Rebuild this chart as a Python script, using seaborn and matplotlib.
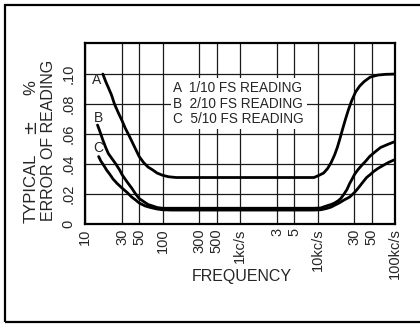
import matplotlib
matplotlib.use("Agg")
import matplotlib.pyplot as plt
from matplotlib.patches import Rectangle
import seaborn as sns
import pandas as pd

# Curve A: 1/10 full-scale reading
freq_a = [17, 18.5, 20, 22, 24, 27, 30, 33, 37, 43, 50, 57, 65, 75, 85, 100,
          120, 150, 200, 1000, 5000, 9000, 10500, 12000, 13500, 15000, 16600,
          18000, 19500, 21000, 23000, 25000, 27500, 31000, 35000, 40000, 48000,
          60000, 75000, 100000]
err_a = [0.100, 0.095, 0.091, 0.086, 0.080, 0.074, 0.069, 0.064, 0.059, 0.052,
         0.045, 0.041, 0.038, 0.036, 0.034, 0.0325, 0.0315, 0.031, 0.031,
         0.031, 0.031, 0.031, 0.0325, 0.034, 0.037, 0.041, 0.046, 0.051,
         0.057, 0.063, 0.070, 0.076, 0.082, 0.088, 0.092, 0.095, 0.098,
         0.0993, 0.0998, 0.100]

# Curve B: 2/10 full-scale reading
freq_b = [14.5, 15.5, 17, 18.5, 20, 22, 25, 28, 30, 35, 40, 45, 50, 57, 65,
          75, 85, 100, 120, 1000, 9000, 11000, 13000, 15000, 16600, 18500,
          20000, 22000, 24000, 26000, 28000, 30000, 33000, 37000, 42000, 47000,
          55000, 65000, 80000, 100000]
err_b = [0.066, 0.062, 0.056, 0.051, 0.047, 0.044, 0.040, 0.036, 0.033, 0.028,
         0.024, 0.020, 0.017, 0.015, 0.013, 0.012, 0.011, 0.0105, 0.0105,
         0.0105, 0.0105, 0.0107, 0.012, 0.013, 0.014, 0.0155, 0.017, 0.020,
         0.023, 0.027, 0.030, 0.033, 0.036, 0.039, 0.042, 0.045, 0.048, 0.051,
         0.053, 0.055]

# Curve C: 5/10 full-scale reading
freq_c = [15, 16, 17.5, 19, 21, 23, 26, 30, 35, 40, 45, 50, 60, 70, 85, 100,
          130, 1000, 9000, 11000, 13000, 15000, 16600, 19000, 22000, 26000,
          30000, 33000, 36000, 40000, 43000, 48000, 53000, 60000, 70000, 82000,
          100000]
err_c = [0.045, 0.042, 0.039, 0.036, 0.033, 0.030, 0.027, 0.024, 0.021, 0.018,
         0.016, 0.014, 0.012, 0.011, 0.010, 0.0095, 0.0093, 0.0093, 0.0093,
         0.0095, 0.0103, 0.0113, 0.0125, 0.014, 0.016, 0.018, 0.021, 0.0235,
         0.026, 0.029, 0.031, 0.033, 0.035, 0.037, 0.039, 0.041, 0.043]

curve_names = ["A", "B", "C"]
legend_lines = ["A  1/10 FS READING", "B  2/10 FS READING", "C  5/10 FS READING"]

x_ticks = [10, 30, 50, 100, 300, 500, 1000, 3000, 5000, 10000, 30000, 50000, 100000]
x_tick_labels = ["10", "30", "50", "100", "300", "500", "1kc/s", "3", "5",
                 "10kc/s", "30", "50", "100kc/s"]
y_ticks = [0, 0.02, 0.04, 0.06, 0.08, 0.10]
y_tick_labels = ["0", ".02", ".04", ".06", ".08", ".10"]

df = pd.concat([
    pd.DataFrame({"freq": freq_a, "err": err_a, "curve": "A"}),
    pd.DataFrame({"freq": freq_b, "err": err_b, "curve": "B"}),
    pd.DataFrame({"freq": freq_c, "err": err_c, "curve": "C"}),
], ignore_index=True)

sns.set_style("white")
plt.rcParams["font.family"] = ["Liberation Sans", "DejaVu Sans"]

fig = plt.figure(figsize=(4.2, 3.27), dpi=100)
ax = fig.add_axes([85 / 420, 1 - 224 / 327, 310 / 420, 181 / 327])

sns.lineplot(data=df, x="freq", y="err", hue="curve", units="curve",
             estimator=None, palette={"A": "black", "B": "black", "C": "black"},
             linewidth=2.0, legend=False, ax=ax, zorder=3)
for ln in ax.lines:
    ln.set_solid_joinstyle("round")
    ln.set_solid_capstyle("round")

ax.set_xscale("log")
ax.set_xlim(10, 100000)
ax.set_ylim(0, 0.1207)

ax.set_xticks(x_ticks)
ax.set_xticklabels(x_tick_labels, rotation=90, fontsize=10.5, va="top", ha="center")
ax.xaxis.set_minor_locator(matplotlib.ticker.NullLocator())
ax.set_yticks(y_ticks)
ax.set_yticklabels(y_tick_labels, rotation=90, fontsize=10.5, va="center")
ax.tick_params(axis="x", length=0, pad=3)
ax.tick_params(axis="y", length=0, pad=7)

ax.grid(True, which="major", color="#1a1a1a", linewidth=0.9)
ax.set_axisbelow(True)
for side in ax.spines.values():
    side.set_visible(True)
    side.set_color("black")
    side.set_linewidth(1.6)

ax.set_xlabel("")
ax.set_ylabel("")
fig.text(242 / 420, 1 - 276 / 327, "FREQUENCY", fontsize=11.5,
         ha="center", va="center")

# curve letters at the left ends
for name, fx, fy in zip(curve_names, [14.3, 14.8, 14.8], [0.096, 0.071, 0.051]):
    ax.text(fx, fy, name, fontsize=10, ha="center", va="center", zorder=4)

ax.text(0.285, 0.665, "\n".join(legend_lines), transform=ax.transAxes,
        fontsize=9.8, ha="left", va="center", linespacing=1.15, zorder=5,
        bbox=dict(facecolor="white", edgecolor="none", pad=2))

# two-line vertical axis title
fig.text(31 / 420, 1 - 188 / 327, "TYPICAL", rotation=90, fontsize=12,
         ha="center", va="center")
fig.text(30 / 420, 1 - 126 / 327, "±", rotation=90, fontsize=13,
         ha="center", va="center", family=["DejaVu Sans"])
fig.text(31 / 420, 1 - 88 / 327, "%", rotation=90, fontsize=12,
         ha="center", va="center")
fig.text(49 / 420, 1 - 140 / 327, "ERROR OF READING", rotation=90,
         fontsize=11.5, ha="center", va="center")

# page border
fig.add_artist(Rectangle((5 / 420, 1 - 322 / 327), 1.2, 317 / 327,
                         transform=fig.transFigure, fill=False,
                         edgecolor="black", linewidth=1.6, clip_on=False))

fig.savefig("out.png", dpi=100)
